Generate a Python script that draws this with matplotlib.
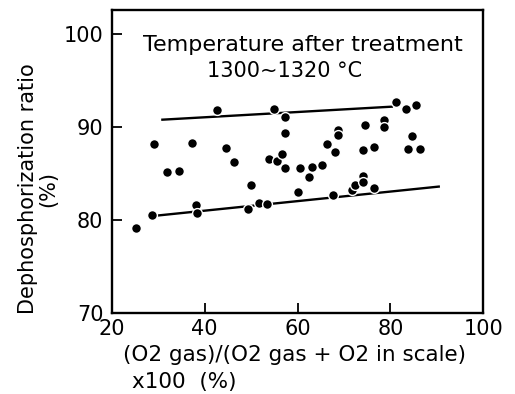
import matplotlib
matplotlib.use("Agg")
import matplotlib.pyplot as plt

# Data
o2_ratio = [25.2, 28.6, 29.2, 31.8, 34.4, 37.2, 38.1, 38.3, 42.7, 44.6, 46.3, 49.4,
            50.0, 51.6, 53.4, 53.9, 54.9, 55.5, 56.6, 57.2, 57.2, 57.3, 60.0, 60.5,
            62.4, 63.2, 65.2, 66.3, 67.7, 68.0, 68.7, 68.7, 71.7, 72.4, 74.2, 74.2,
            74.2, 74.6, 76.5, 76.5, 78.6, 78.6, 81.3, 83.4, 85.4, 84.6, 83.7, 86.3]
dephos = [79.1, 80.5, 88.2, 85.2, 85.3, 88.3, 81.6, 80.8, 91.8, 87.75, 86.3, 81.2,
          83.8, 81.8, 81.7, 86.6, 91.9, 86.4, 87.1, 91.1, 89.4, 85.6, 83.0, 85.6,
          84.6, 85.7, 85.9, 88.2, 82.7, 87.3, 89.7, 89.2, 83.2, 83.8, 84.7, 84.1,
          87.5, 90.2, 87.9, 83.5, 90.8, 90.0, 92.7, 92.0, 92.4, 89.0, 87.6, 87.6]

upper_line_x = [30.9, 80.3]
upper_line_y = [90.8, 92.2]
lower_line_x = [30.1, 90.4]
lower_line_y = [80.5, 83.6]

xticks = [20, 40, 60, 80, 100]
yticks = [70, 80, 90, 100]

fig = plt.figure(figsize=(5.15, 3.94), dpi=100)
ax = fig.add_axes([0.217, 0.2056, 0.7215, 0.769])

ax.plot(upper_line_x, upper_line_y, color='black', lw=1.7, zorder=2)
ax.plot(lower_line_x, lower_line_y, color='black', lw=1.7, zorder=2)
ax.scatter(o2_ratio, dephos, s=50, color='black', edgecolors='white',
           linewidths=1.0, zorder=3)

ax.set_xlim(20.5, 99.1)
ax.set_ylim(70, 102.6)
ax.set_xticks(xticks)
ax.set_yticks(yticks)
ax.set_xticklabels([str(t) for t in xticks], fontsize=15)
ax.set_yticklabels([str(t) for t in yticks], fontsize=15)
ax.tick_params(direction='in', length=7, width=1.3, pad=4)
ax.tick_params(axis='y', pad=6)
for s in ax.spines.values():
    s.set_linewidth(1.7)

ax.text(0.515, 0.885, "Temperature after treatment", transform=ax.transAxes,
        ha='center', va='center', fontsize=16)
ax.text(0.465, 0.80, "1300~1320 °C", transform=ax.transAxes,
        ha='center', va='center', fontsize=15)

fig.text(0.074, 0.52, "Dephosphorization ratio\n(%)", rotation=90,
         ha='center', va='center', fontsize=15, linespacing=1.05)
fig.text(0.238, 0.099, "(O2 gas)/(O2 gas + O2 in scale)",
         ha='left', va='center', fontsize=15.5)
fig.text(0.256, 0.004, "x100  (%)",
         ha='left', va='bottom', fontsize=15.5)

fig.savefig("out.png", dpi=100)
